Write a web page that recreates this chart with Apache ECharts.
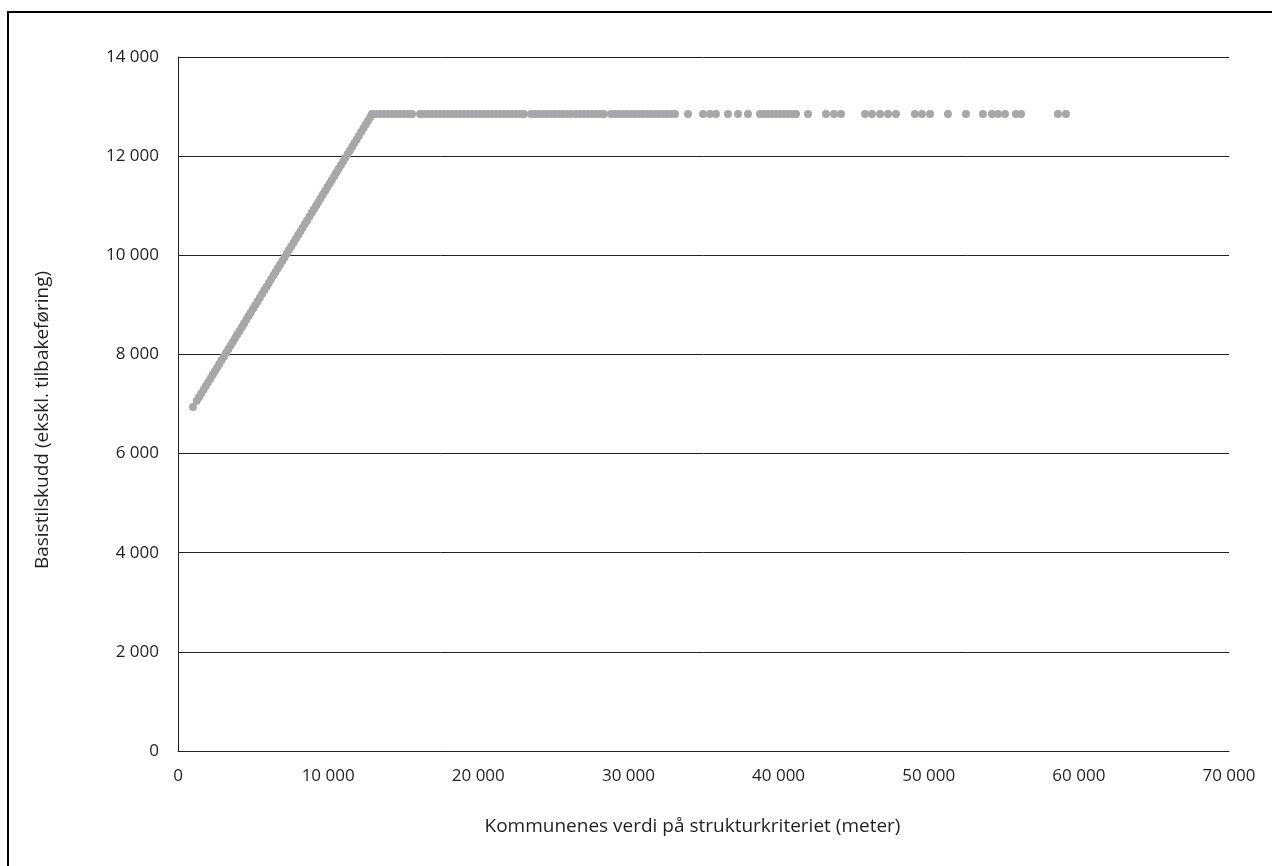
<!DOCTYPE html>
<html>
<head>
<meta charset="utf-8">
<script src="https://cdn.jsdelivr.net/npm/echarts@6/dist/echarts.min.js"></script>
<style>
html,body{margin:0;padding:0;background:#fff;}
#c{width:1272px;height:866px;}
</style>
</head>
<body>
<div id="c"></div>
<script>
// Ramp segment (kommuner below the cap)
const rampX = [1000,1250,1400,1550,1700,1850,2000,2150,2300,2450,2600,2750,2900,3050,3200,3350,3500,3650,3800,3950,4100,4250,4400,4550,4700,4850,5000,5150,5300,5450,5600,5750,5900,6050,6200,6350,6500,6650,6800,6950,7100,7250,7400,7550,7700,7850,8000,8150,8300,8450,8600,8750,8900,9050,9200,9350,9500,9650,9800,9950,10100,10250,10400,10550,10700,10850,11000,11150,11300,11450,11600,11750,11900,12050,12200,12350,12500,12650,12800];
const rampY = [6940,7064,7138,7212,7287,7361,7435,7510,7584,7658,7733,7807,7881,7955,8030,8104,8178,8253,8327,8401,8475,8550,8624,8698,8773,8847,8921,8995,9070,9144,9218,9293,9367,9441,9516,9590,9664,9738,9813,9887,9961,10036,10110,10184,10258,10333,10407,10481,10556,10630,10704,10778,10853,10927,11001,11076,11150,11224,11298,11373,11447,11521,11596,11670,11744,11818,11893,11967,12041,12116,12190,12264,12338,12413,12487,12561,12636,12710,12784];
// Flat segment (kommuner at the cap)
const flatX = [12920,13190,13450,13720,13990,14250,14520,14790,15050,15320,15590,16120,16380,16650,16920,17180,17450,17720,17980,18250,18520,18780,19050,19310,19580,19850,20110,20380,20650,20910,21180,21450,21710,21980,22250,22510,22780,23040,23510,23780,24040,24310,24580,24840,25110,25380,25640,25910,26170,26510,26770,27040,27310,27570,27840,28110,28370,28840,29110,29370,29640,29900,30170,30440,30700,30970,31240,31500,31770,32040,32300,32570,32830,33100,33970,34970,35430,35830,36630,37300,37960,38760,39030,39300,39560,39830,40090,40360,40630,40890,41160,41960,43160,43690,44160,45760,46220,46760,47290,47820,49080,49550,50090,51280,52480,53610,54210,54610,55080,55810,56150,58610,59140];
const flatY = flatX.map(() => 12850);
const yTicks = [0,2000,4000,6000,8000,10000,12000,14000];
const xTicks = [0,10000,20000,30000,40000,50000,60000,70000];

const xTitle = 'Kommunenes verdi på strukturkriteriet (meter)';
const yTitle = 'Basistilskudd (ekskl. tilbakeføring)';

const pts = [];
rampX.forEach((x,i)=>pts.push([x, rampY[i]]));
flatX.forEach((x,i)=>pts.push([x, flatY[i]]));

const fmt = v => String(v).replace(/\B(?=(\d{3})+(?!\d))/g, ' ');
const FONT = 'Open Sans';
const TXT = '#231f20';

const chart = echarts.init(document.getElementById('c'), null, {renderer:'canvas'});
chart.setOption({
  animation:false,
  backgroundColor:'#fff',
  textStyle:{fontFamily:FONT},
  graphic:[{
    type:'rect', shape:{x:8,y:12,width:1400,height:1000},
    style:{fill:'none', stroke:'#000', lineWidth:2}, silent:true, z:-1
  }],
  grid:{left:178, right:43, top:57, bottom:115, containLabel:false},
  xAxis:{
    type:'value', min:xTicks[0], max:xTicks[xTicks.length-1], interval:10000,
    name:xTitle, nameLocation:'middle', nameGap:66,
    nameTextStyle:{fontFamily:FONT, fontSize:19, color:TXT, padding:[0,22,0,0]},
    axisLine:{show:true, onZero:false, lineStyle:{color:'#231f20', width:1}},
    axisTick:{show:false},
    splitLine:{show:false},
    axisLabel:{fontFamily:FONT, fontSize:17, color:TXT, margin:17, formatter:fmt}
  },
  yAxis:{
    type:'value', min:yTicks[0], max:yTicks[yTicks.length-1], interval:2000,
    name:yTitle, nameLocation:'middle', nameGap:126, nameRotate:90,
    nameTextStyle:{fontFamily:FONT, fontSize:19, color:TXT, padding:[0,32,0,0]},
    axisLine:{show:true, lineStyle:{color:'#231f20', width:1}},
    axisTick:{show:false},
    splitLine:{show:true, lineStyle:{color:'#231f20', width:1}},
    axisLabel:{fontFamily:FONT, fontSize:17, color:TXT, margin:19, formatter:fmt}
  },
  series:[{
    type:'scatter',
    data:pts,
    symbol:'circle',
    symbolSize:8,
    itemStyle:{color:'#a7a7a9', opacity:1},
    z:3
  }]
});
</script>
</body>
</html>
